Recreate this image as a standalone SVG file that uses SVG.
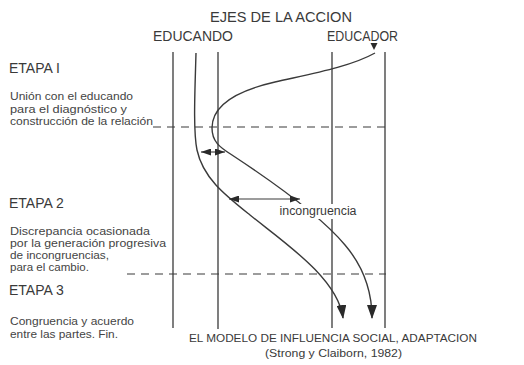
<svg xmlns="http://www.w3.org/2000/svg" width="524" height="365" viewBox="0 0 524 365">
<defs>
<style>
.t{font-family:"Liberation Sans",Arial,Helvetica,sans-serif;fill:#3a3a3a}
.b{font-size:10.6px;fill:#444444}
.ax{stroke:#3a3a3a;stroke-width:1.3;fill:none}
.dash{stroke:#3a3a3a;stroke-width:1.2;stroke-dasharray:8,6;fill:none}
.cv{stroke:#3a3a3a;stroke-width:1.4;fill:none}
.dim{stroke:#3a3a3a;stroke-width:1.1;fill:none}
</style>
<marker id="big" viewBox="0 0 14 10" refX="13" refY="5" markerWidth="14" markerHeight="10" markerUnits="userSpaceOnUse" orient="auto">
<path d="M0,0 L14,5 L0,10 Z" fill="#2a2a2a"/>
</marker>
<marker id="sm" viewBox="0 0 10 7" refX="10" refY="3.5" markerWidth="10" markerHeight="7" markerUnits="userSpaceOnUse" orient="auto-start-reverse">
<path d="M0,0 L10,3.5 L0,7 Z" fill="#2a2a2a"/>
</marker>
</defs>
<rect width="524" height="365" fill="#ffffff"/>

<g id="title">
<text class="t" x="281" y="22" font-size="14.5" text-anchor="middle" textLength="142" lengthAdjust="spacingAndGlyphs">EJES DE LA ACCION</text>
</g>
<g id="educando-label">
<text class="t" x="153" y="41" font-size="14" textLength="80" lengthAdjust="spacingAndGlyphs">EDUCANDO</text>
</g>
<g id="educador-label">
<text class="t" x="327" y="41" font-size="14" textLength="71" lengthAdjust="spacingAndGlyphs">EDUCADOR</text>
</g>

<g id="etapa1">
<text class="t" x="9" y="73" font-size="14">ETAPA I</text>
<text class="t b" x="10" y="100" textLength="123" lengthAdjust="spacingAndGlyphs">Unión con el educando</text>
<text class="t b" x="10" y="112.5" textLength="117" lengthAdjust="spacingAndGlyphs">para el diagnóstico y</text>
<text class="t b" x="10" y="125" textLength="143" lengthAdjust="spacingAndGlyphs">construcción de la relación</text>
</g>
<g id="etapa2">
<text class="t" x="9" y="208" font-size="14">ETAPA 2</text>
<text class="t b" x="10" y="234.5" textLength="140" lengthAdjust="spacingAndGlyphs">Discrepancia ocasionada</text>
<text class="t b" x="10" y="246.5" textLength="156" lengthAdjust="spacingAndGlyphs">por la generación progresiva</text>
<text class="t b" x="10" y="258.5" textLength="99" lengthAdjust="spacingAndGlyphs">de incongruencias,</text>
<text class="t b" x="10" y="270.5" textLength="79" lengthAdjust="spacingAndGlyphs">para el cambio.</text>
</g>
<g id="etapa3">
<text class="t" x="9" y="295" font-size="14">ETAPA 3</text>
<text class="t b" x="10" y="325" textLength="124" lengthAdjust="spacingAndGlyphs">Congruencia y acuerdo</text>
<text class="t b" x="10" y="337.5" textLength="108" lengthAdjust="spacingAndGlyphs">entre las partes. Fin.</text>
</g>

<g id="axes">
<line class="ax" x1="173" y1="52" x2="173" y2="328"/>
<line class="ax" x1="218" y1="52" x2="218" y2="329"/>
<line class="ax" x1="332" y1="52" x2="332" y2="328"/>
<line class="ax" x1="385" y1="52" x2="385" y2="328"/>
</g>

<g id="connectors">
<line class="dash" x1="153" y1="127" x2="386" y2="127"/>
<line class="dash" x1="127" y1="274" x2="386" y2="274"/>
<path class="cv" d="M196,53 C195,90 193,130 197,150 C203,178 225,195 250,215 C282,241 338,278 343,318" marker-end="url(#big)"/>
<path class="cv" d="M375,53 C350,67 310,74 275,82 C240,90 212,104 212,128 C212,141 219,147 232,155 C270,180 320,215 345,245 C362,265 372,290 372,318" marker-end="url(#big)"/>
<path d="M370.5,43 L377.5,43 L374,50 Z" fill="#2a2a2a"/>
<line class="dim" x1="201" y1="152" x2="225" y2="152" marker-start="url(#sm)" marker-end="url(#sm)"/>
<line class="dim" x1="229" y1="199" x2="300" y2="199" marker-start="url(#sm)" marker-end="url(#sm)"/>
</g>

<g id="incongruencia">
<rect x="278" y="204" width="81" height="15" fill="#ffffff"/>
<text class="t" x="318" y="215" font-size="12" text-anchor="middle" textLength="77" lengthAdjust="spacingAndGlyphs">incongruencia</text>
</g>

<g id="caption">
<text class="t" x="189" y="342" font-size="11.7" textLength="288" lengthAdjust="spacingAndGlyphs">EL MODELO DE INFLUENCIA SOCIAL, ADAPTACION</text>
<text class="t" x="265" y="357" font-size="11.5" textLength="137" lengthAdjust="spacingAndGlyphs">(Strong y Claiborn, 1982)</text>
</g>
</svg>
